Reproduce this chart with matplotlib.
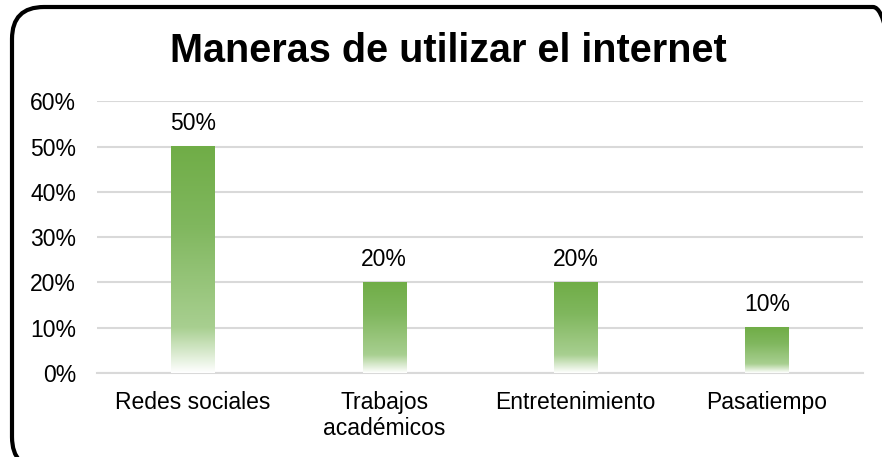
import matplotlib.pyplot as plt
import numpy as np
from matplotlib.patches import FancyBboxPatch
from matplotlib.colors import LinearSegmentedColormap

plt.rcParams['font.family'] = ['Liberation Sans', 'DejaVu Sans']

categorias = ["Redes sociales", "Trabajos\nacadémicos", "Entretenimiento", "Pasatiempo"]
valores = [0.50, 0.20, 0.20, 0.10]
etiquetas = ["50%", "20%", "20%", "10%"]

fig = plt.figure(figsize=(8.82, 4.57), dpi=100)

# borde redondeado (en pixeles, se sale por la derecha y por abajo)
fondo = fig.add_axes([0, 0, 1, 1])
fondo.set_xlim(0, 882)
fondo.set_ylim(0, 457)
fondo.axis("off")
fondo.add_patch(FancyBboxPatch((12, -12), 893, 462, boxstyle="round,pad=0,rounding_size=32",
                               fill=False, edgecolor="black", linewidth=3))

ax = fig.add_axes([0.110, 0.184, 0.868, 0.594])

verde = LinearSegmentedColormap.from_list(
    "verde", [(0, "#70AD47"), (0.35, "#80B75E"), (0.8, "#A8CF90"), (1.0, "#FFFFFF")])
grad = np.linspace(0, 1, 256).reshape(-1, 1)

x = np.arange(len(categorias))
ancho = 0.225
barras = ax.bar(x, valores, width=ancho, color="none", zorder=3)
for b, v, et in zip(barras, valores, etiquetas):
    x0 = b.get_x()
    ax.imshow(grad, cmap=verde, aspect="auto", extent=[x0, x0 + ancho, 0, v],
              origin="upper", zorder=3, interpolation="bilinear")
    ax.text(b.get_x() + ancho / 2, v + 0.025, et, ha="center", va="bottom", fontsize=16.5)

ax.set_xlim(-0.5, len(categorias) - 0.5)
ax.set_ylim(0, 0.6)
ax.set_yticks(np.arange(0, 0.61, 0.1))
ax.set_yticklabels([f"{int(round(t * 100))}%" for t in np.arange(0, 0.61, 0.1)], fontsize=16.5)
ax.set_xticks(x)
ax.set_xticklabels(categorias, fontsize=16.5, linespacing=1.15)
ax.tick_params(length=0)
ax.tick_params(axis="y", pad=15)
ax.tick_params(axis="x", pad=13)
ax.grid(axis="y", color="#D9D9D9", linewidth=1.5, zorder=0)
for s in ["top", "right", "left"]:
    ax.spines[s].set_visible(False)
ax.spines["bottom"].set_color("#D9D9D9")
ax.spines["bottom"].set_linewidth(1.5)

fig.text(0.508, 0.888, "Maneras de utilizar el internet", ha="center", va="center",
         fontsize=28.5, fontweight="bold")

fig.savefig("out.png", dpi=100)
plt.close(fig)
